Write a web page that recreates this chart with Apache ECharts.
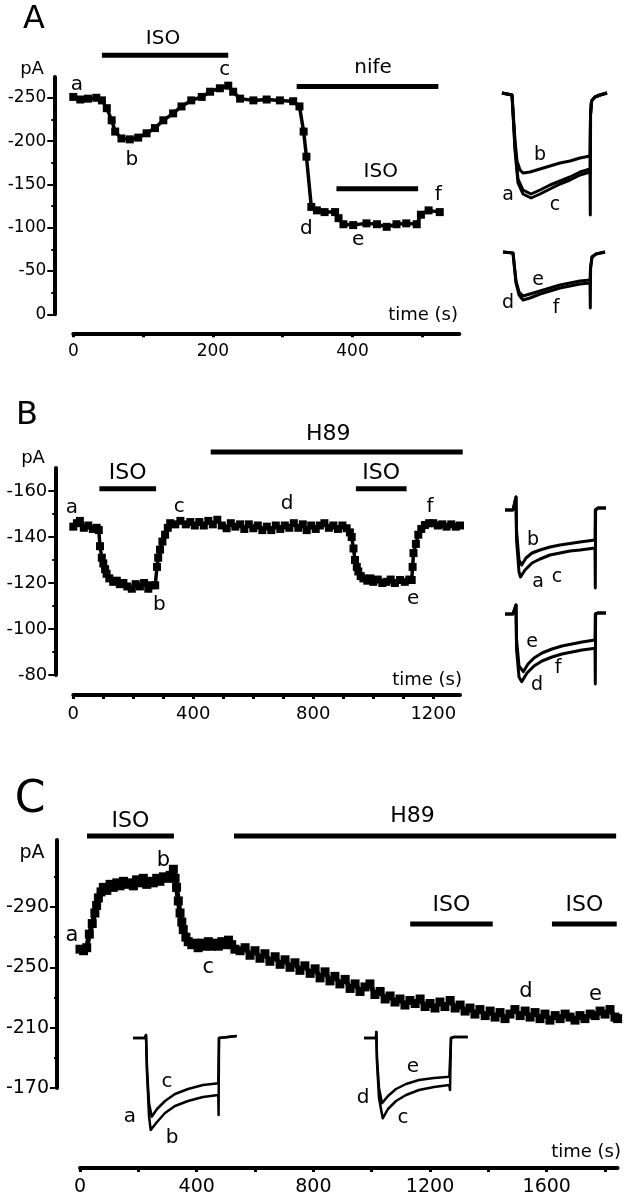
<!DOCTYPE html>
<html>
<head>
<meta charset="utf-8">
<title>ISO / nifedipine / H89 current time courses</title>
<script src="https://cdn.jsdelivr.net/npm/echarts@6/dist/echarts.min.js"></script>
<style>
    html, body { margin: 0; padding: 0; background: #fff; }
    #chart { width: 626px; height: 1199px; }
</style>
</head>
<body>
<div id="chart"></div>
<script>
var FONT = 'DejaVu Sans';

// ---------- panel A: ISO, then nifedipine + ISO ----------
var aTrace = [[0,-251],[10,-248],[21,-249],[33,-250],[41,-247],[48,-238],[55,-224],[60,-211],[69,-203],[81,-202],
    [93,-204],[105,-209],[117,-215],[129,-224],[143,-232],[155,-240],[169,-247],[184,-251],[196,-257],[210,-261],
    [222,-264],[229,-257],[239,-249],[258,-247],[277,-248],[296,-247],[315,-246],[324,-240],[330,-211],[334,-182],
    [341,-124],[349,-120],[360,-118],[375,-118],[380,-111],[387,-104],[401,-103],[420,-105],[435,-104],[449,-101],
    [463,-104],[477,-105],[492,-104],[498,-115],[509,-120],[525,-118]];
var aYTicks = [-250, -200, -150, -100, -50, 0];
var aYMinor = [-225, -175, -125, -75, -25];
var aXTicks = [0, 100, 200, 300, 400, 500];
var aXLabels = [0, 200, 400];
var aBars = [['ISO', 41, 222], ['nife', 320, 523], ['ISO', 377, 494]];
var aLetters = [['a', 5, -265], ['b', 84, -178], ['c', 217, -282], ['d', 334, -99], ['e', 408, -86], ['f', 523, -138]];

// insets A (ms, relative current)
var aInset1a = [[2,2],[12,0],[14,-2],[15,-55],[18,-88],[23,-99],[31,-103],[40,-99],[50,-94],[60,-89],[70,-85],[80,-80],[90,-77],[90.3,-120],[90.6,-20],[91.5,-6],[95,-2],[100,0],[107,2]];
var aInset1b = [[2,2],[12,0],[14,-2],[15,-45],[17,-66],[20,-75],[23,-78],[30,-77],[40,-74],[50,-71],[60,-68],[70,-66],[80,-63],[90,-61],[90.5,-20],[91.5,-6],[95,-2],[100,0],[107,2]];
var aInset1c = [[2,2],[12,0],[14,-2],[15,-52],[18,-84],[23,-95],[31,-99],[40,-95],[50,-90],[60,-86],[70,-82],[80,-77],[90,-74],[90.5,-20],[91.5,-6],[95,-2],[100,0],[107,2]];
var aInset1Letters = [['b', 40, -60], ['a', 8, -100], ['c', 55, -110]];
var aInset2d = [[3,1],[13,0],[15,-1],[16,-30],[19,-42],[23,-47],[30,-45],[40,-41],[50,-38],[60,-35],[70,-33],[80,-31],[90,-30],[90.3,-55],[90.6,-15],[92,-4],[96,-1],[105,1]];
var aInset2e = [[3,1],[13,0],[15,-1],[16,-28],[19,-39],[23,-43],[30,-41],[40,-38],[50,-35],[60,-32],[70,-30],[80,-28],[90,-27],[90.5,-15],[92,-4],[96,-1],[105,1]];
var aInset2Letters = [['e', 38, -27], ['d', 8, -50], ['f', 56, -55]];

// ---------- panel B: ISO, then H89 + ISO ----------
var bTrace = [[0,-144.5],[12,-146],[22,-147],[35,-144],[50,-145],[65,-143.5],[78,-144],[85,-143],[89,-136],[95,-131],
    [100,-128.5],[106,-126],[111,-124],[120,-122],[133,-120.5],[145,-121],[155,-119.5],[167,-120],[180,-118.5],[195,-117.5],
    [208,-119.5],[222,-118.5],[236,-120],[250,-117.5],[262,-119],[273,-119],[279,-127],[283,-131],[289,-134.5],[297,-138],
    [306,-141],[315,-144],[323,-146],[340,-145.5],[357,-147],[375,-145.5],[390,-146.5],[405,-145],[420,-146.5],[435,-145],
    [450,-147],[465,-145.5],[480,-147.5],[495,-145],[511,-143.8],[525,-146],[540,-144.5],[556,-145.5],[570,-143.5],[585,-145.5],
    [600,-143.8],[615,-145],[630,-143],[645,-144.5],[660,-143],[675,-145],[690,-143.5],[705,-145],[720,-144],[735,-146],
    [750,-144],[765,-145.5],[778,-143],[793,-145],[808,-143.5],[822,-145],[837,-146],[852,-144],[867,-145],[882,-143.5],
    [897,-145],[911,-143.8],[922,-142],[928,-140],[934,-135],[939,-130],[945,-127],[950,-125],[958,-123],[967,-122],
    [980,-121],[990,-122],[1000,-120.5],[1015,-121.5],[1030,-120],[1044,-120.5],[1058,-121.5],[1072,-120],[1089,-121.3],[1105,-120.5],
    [1120,-121.5],[1128,-121.3],[1131,-127],[1134,-133],[1142,-137],[1150,-141],[1160,-143.5],[1172,-145.2],[1186,-146],[1200,-146],
    [1215,-145],[1230,-145.5],[1244,-144.5],[1260,-145.5],[1275,-144.5],[1289,-145]];
var bYTicks = [-160, -140, -120, -100, -80];
var bYMinor = [-150, -130, -110, -90];
var bXTicks = [0, 100, 200, 300, 400, 500, 600, 700, 800, 900, 1000, 1100, 1200];
var bXLabels = [0, 400, 800, 1200];
var bBars = [['ISO', 87, 276], ['H89', 458, 1298], ['ISO', 942, 1111]];
var bLetters = [['a', -5, -152.5], ['b', 287, -110.5], ['c', 353, -153], ['d', 713, -154.3], ['e', 1133, -113.3], ['f', 1189, -153]];

var bInset1b = [[5,0],[13,0],[15,1],[16,13],[16.5,-20],[19,-50],[21.7,-55],[26,-48],[32,-43],[40,-40],[50,-37],[60,-35],[70,-33.5],[80,-32],[95,-30],[95.3,0],[98,2],[106,2]];
var bInset1a = [[5,0],[13,0],[15,1],[16,13],[16.5,-30],[19,-62],[20.5,-67],[25,-60],[32,-53],[40,-49],[50,-45],[60,-43],[70,-41],[80,-40],[95,-38],[95.3,-78],[95.6,0],[98,2],[106,2]];
var bInset1Letters = [['b', 33, -30], ['a', 38, -72], ['c', 57, -67]];
var bInset2e = [[5,0],[13,0],[15,1],[16,9],[16.5,-25],[19,-52],[23.3,-57.7],[28,-50],[34,-44],[42,-39],[52,-35],[62,-32],[72,-30],[82,-28],[95,-26],[95.3,0],[98,1],[106,1]];
var bInset2d = [[5,0],[13,0],[15,1],[16,9],[16.5,-35],[19,-63],[21.7,-67.7],[27,-59],[34,-52],[42,-47],[52,-43],[62,-40],[72,-38],[82,-36],[95,-34.3],[95.3,-70],[95.6,0],[98,1],[106,1]];
var bInset2Letters = [['e', 32, -28], ['d', 37, -71], ['f', 58, -54]];

// ---------- panel C: ISO, H89 run-down, ISO under H89 ----------
var cTrace = [[0,-262],[12,-261],[23,-263],[32,-272],[42,-279],[51,-286],[57,-291],[63,-296],[72,-300],[80,-303],
    [92,-301],[103,-305],[114,-303],[126,-306],[137,-304],[149,-307],[160,-305],[172,-306],[183,-304],[194,-308],
    [206,-306],[217,-309],[229,-305],[240,-307],[251,-306],[263,-309],[274,-307],[286,-310],[297,-309],[309,-311],
    [320,-315],[326,-309],[331,-303],[337,-294],[343,-286],[349,-280],[354,-275],[363,-270],[371,-267],[383,-265],
    [394,-266],[405,-263],[417,-266],[428,-264],[440,-267],[451,-264],[463,-266],[474,-264],[486,-267],[497,-265],
    [509,-268],[520,-265],[531,-262],[549,-261],[566,-263],[583,-258],[600,-261],[617,-256],[634,-259],[651,-254],
    [669,-257],[686,-252],[703,-255],[720,-250],[737,-253],[754,-248],[771,-251],[789,-246],[806,-249],[823,-243],
    [840,-247],[857,-241],[874,-244],[891,-239],[909,-242],[926,-236],[943,-239],[960,-234],[977,-237],[994,-239],
    [1011,-232],[1029,-234],[1046,-229],[1063,-231],[1080,-227],[1097,-229],[1114,-225],[1131,-228],[1149,-226],[1166,-229],
    [1183,-224],[1200,-226],[1217,-223],[1234,-227],[1251,-224],[1269,-228],[1286,-223],[1303,-225],[1320,-221],[1337,-223],
    [1354,-219],[1371,-222],[1389,-218],[1406,-221],[1423,-217],[1440,-220],[1457,-216],[1474,-219],[1491,-222],[1509,-218],
    [1526,-221],[1543,-217],[1560,-220],[1577,-216],[1594,-219],[1611,-215],[1629,-218],[1646,-216],[1663,-219],[1680,-217],
    [1697,-215],[1714,-218],[1731,-216],[1749,-219],[1766,-218],[1783,-221],[1800,-219],[1817,-222],[1834,-217],[1843,-216]];
var cYTicks = [-290, -250, -210, -170];
var cYMinor = [-310, -270, -230, -190];
var cXTicks = [0, 200, 400, 600, 800, 1000, 1200, 1400, 1600, 1800];
var cXLabels = [0, 400, 800, 1200, 1600];
var cBars = [['ISO', 24, 322], ['H89', 528, 1838], ['ISO', 1132, 1415], ['ISO', 1618, 1840]];
var cLetters = [['a', -28, -271], ['b', 286, -321], ['c', 440, -250], ['d', 1529, -234], ['e', 1767, -232]];

var cInset1c = [[0,0],[12,0],[13,3],[14,-30],[16,-65],[18.7,-78.7],[24,-71],[32,-63],[42,-56],[55,-51],[70,-47],[85.3,-45.3],[86,0],[88,2],[103.7,2]];
var cInset1b = [[0,0],[12,0],[13,3],[14,-35],[16,-78],[17.7,-92],[24,-84],[32,-75],[42,-68],[55,-63],[70,-59],[85.3,-57],[85.6,-77],[86,0],[88,2],[103.7,2]];
var cInset1Letters = [['c', 34, -44], ['a', -3, -79], ['b', 39, -100]];
var cInset2e = [[0,0],[12,0],[12.3,6],[13,-20],[15,-50],[18,-65.3],[24,-58],[32,-51],[42,-46],[55,-42],[70,-40],[85.3,-38.7],[87,0],[90,1],[103.7,1]];
var cInset2c = [[0,0],[12,0],[12.3,6],[13,-25],[15,-60],[18.7,-80.3],[24,-71],[32,-63],[42,-57],[55,-52],[70,-49],[85.3,-47],[86,-52],[87,0],[90,1],[103.7,1]];
var cInset2Letters = [['e', 49, -29], ['d', -1, -60], ['c', 39, -80]];

// ---------- building the option ----------
var grids = [], xAxes = [], yAxes = [], series = [], texts = [];

// labels given as [text, x, y] in the axes' own units
function textSeries(xi, yi, pts, size) {
    return {
        type: 'scatter', xAxisIndex: xi, yAxisIndex: yi, clip: false, silent: true,
        data: pts.map(function (l) { return [l[1], l[2], l[0]]; }),
        symbol: 'rect', symbolSize: 0, itemStyle: {color: '#000'},
        label: {show: true, position: 'inside', color: '#000', textBorderWidth: 0, opacity: 1,
            fontFamily: FONT, fontSize: size,
            formatter: function (p) { return p.value[2]; }},
        labelLayout: {hideOverlap: false}
    };
}

function plain(v) { return String(v); }

function mainPanel(p) {
    var gi = grids.length;
    grids.push({left: p.box[0], top: p.box[1], width: p.box[2], height: p.box[3]});
    var xi = xAxes.length;
    xAxes.push({
        gridIndex: gi, type: 'value', min: 0, max: p.xMax, position: 'bottom', offset: p.xOffset,
        axisLine: {show: true, onZero: false, lineStyle: {color: '#000', width: 4}},
        axisTick: {show: true, length: 4, lineStyle: {color: '#000', width: 3}, customValues: p.xTicks},
        axisLabel: {customValues: p.xLabels, formatter: plain, color: '#000', fontFamily: FONT, fontSize: p.tickFont, margin: 10},
        splitLine: {show: false}
    });
    var yi = yAxes.length;
    yAxes.push({
        gridIndex: gi, type: 'value', min: p.yMin, max: p.yMax, inverse: true, position: 'left', offset: p.yOffset,
        axisLine: {show: true, onZero: false, lineStyle: {color: '#000', width: 4}},
        axisTick: {show: true, length: 7, lineStyle: {color: '#000', width: 2}, customValues: p.yTicks},
        axisLabel: {customValues: p.yTicks, formatter: plain, color: '#000', fontFamily: FONT, fontSize: p.tickFont, margin: 8},
        splitLine: {show: false}
    });
    // minor ticks on a second, line-less axis at the same place
    yAxes.push({
        gridIndex: gi, type: 'value', min: p.yMin, max: p.yMax, inverse: true, position: 'left', offset: p.yOffset,
        axisLine: {show: true, onZero: false, lineStyle: {color: 'rgba(0,0,0,0)', width: 1}},
        axisTick: {show: true, length: 3, lineStyle: {color: '#000', width: 2}, customValues: p.yMinor},
        axisLabel: {show: false}, splitLine: {show: false}
    });
    series.push({
        type: 'line', xAxisIndex: xi, yAxisIndex: yi, data: p.trace, clip: false,
        symbol: 'rect', symbolSize: p.symbolSize, lineStyle: {color: '#000', width: p.lineWidth},
        itemStyle: {color: '#000'}
    });
    var barLabels = [];
    p.bars.forEach(function (b, i) {
        series.push({
            type: 'line', xAxisIndex: xi, yAxisIndex: yi, clip: false, symbol: 'none',
            data: [[b[1], p.barLevels[i]], [b[2], p.barLevels[i]]],
            lineStyle: {color: '#000', width: 5, cap: 'butt'}
        });
        barLabels.push([b[0], (b[1] + b[2]) / 2 + (p.labelShift[i] || 0), p.labelLevels[i]]);
    });
    series.push(textSeries(xi, yi, barLabels, p.drugFont));
    series.push(textSeries(xi, yi, p.letters, p.letterFont));
}

function inset(box, traces, letters, lw, fs) {
    var gi = grids.length;
    grids.push({left: box[0], top: box[1], width: box[2], height: box[3]});
    var xi = xAxes.length, yi = yAxes.length;
    xAxes.push({gridIndex: gi, type: 'value', min: 0, max: box[2], show: false});
    yAxes.push({gridIndex: gi, type: 'value', min: box[4] - box[3], max: box[4], show: false});
    traces.forEach(function (t) {
        series.push({
            type: 'line', xAxisIndex: xi, yAxisIndex: yi, data: t, clip: false, symbol: 'none',
            lineStyle: {color: '#000', width: lw, join: 'round'}
        });
    });
    series.push(textSeries(xi, yi, letters, fs));
}

mainPanel({
    box: [73.3, 77, 386, 237.3], xMax: 553, yMin: -274, yMax: 0, xOffset: 19, yOffset: 19,
    xTicks: aXTicks, xLabels: aXLabels, yTicks: aYTicks, yMinor: aYMinor, tickFont: 17,
    trace: aTrace, symbolSize: 8, lineWidth: 3.5,
    bars: aBars, barLevels: [-299, -263, -145], labelLevels: [-318, -285, -164], labelShift: [-3, 8, 5],
    letters: aLetters, drugFont: 20, letterFont: 20
});
inset([500, 83, 110, 137, 12], [aInset1b, aInset1c, aInset1a], aInset1Letters, 3, 19);
inset([500, 243, 110, 70, 10], [aInset2d, aInset2e], aInset2Letters, 3, 19);

mainPanel({
    box: [73.3, 468, 386.7, 207], xMax: 1289, yMin: -170, yMax: -80, xOffset: 20, yOffset: 18,
    xTicks: bXTicks, xLabels: bXLabels, yTicks: bYTicks, yMinor: bYMinor, tickFont: 18,
    trace: bTrace, symbolSize: 8, lineWidth: 3.5,
    bars: bBars, barLevels: [-161, -177, -161], labelLevels: [-167.7, -184.8, -167.7], labelShift: [0, -28, 0],
    letters: bLetters, drugFont: 22, letterFont: 20
});
inset([500, 495, 110, 95, 15], [bInset1b, bInset1a], bInset1Letters, 3, 19);
inset([500, 602, 110, 87, 12], [bInset2e, bInset2d], bInset2Letters, 3, 19);

mainPanel({
    box: [80, 840, 537.6, 248], xMax: 1843, yMin: -334.4, yMax: -170, xOffset: 80, yOffset: 23,
    xTicks: cXTicks, xLabels: cXLabels, yTicks: cYTicks, yMinor: cYMinor, tickFont: 19,
    trace: cTrace, symbolSize: 9, lineWidth: 5,
    bars: cBars, barLevels: [-337, -337, -278.7, -278.7], labelLevels: [-347, -350, -291, -291], labelShift: [0, -43, 0, 0],
    letters: cLetters, drugFont: 22, letterFont: 21
});
inset([133, 1030, 110, 113, 8], [cInset1c, cInset1b], cInset1Letters, 2.5, 20);
inset([364, 1028, 110, 95, 10], [cInset2e, cInset2c], cInset2Letters, 2.5, 20);

function label(txt, x, y, size, align) {
    return {type: 'text', x: x, y: y, style: {text: txt, fill: '#000', font: size + 'px "' + FONT + '"',
        textAlign: align || 'center', textVerticalAlign: 'middle'}};
}
texts.push(label('A', 34, 20, 32));
texts.push(label('B', 27, 416, 32));
texts.push(label('C', 30, 801, 44));
texts.push(label('pA', 32, 69, 18));
texts.push(label('pA', 33, 458, 18));
texts.push(label('pA', 32, 853, 19));
texts.push(label('time (s)', 458, 315, 18, 'right'));
texts.push(label('time (s)', 462, 680, 18, 'right'));
texts.push(label('time (s)', 621, 1152, 18, 'right'));

var chart = echarts.init(document.getElementById('chart'), null, {renderer: 'canvas'});
chart.setOption({
    animation: false,
    backgroundColor: '#fff',
    grid: grids,
    xAxis: xAxes,
    yAxis: yAxes,
    series: series,
    graphic: texts
});
</script>
</body>
</html>
